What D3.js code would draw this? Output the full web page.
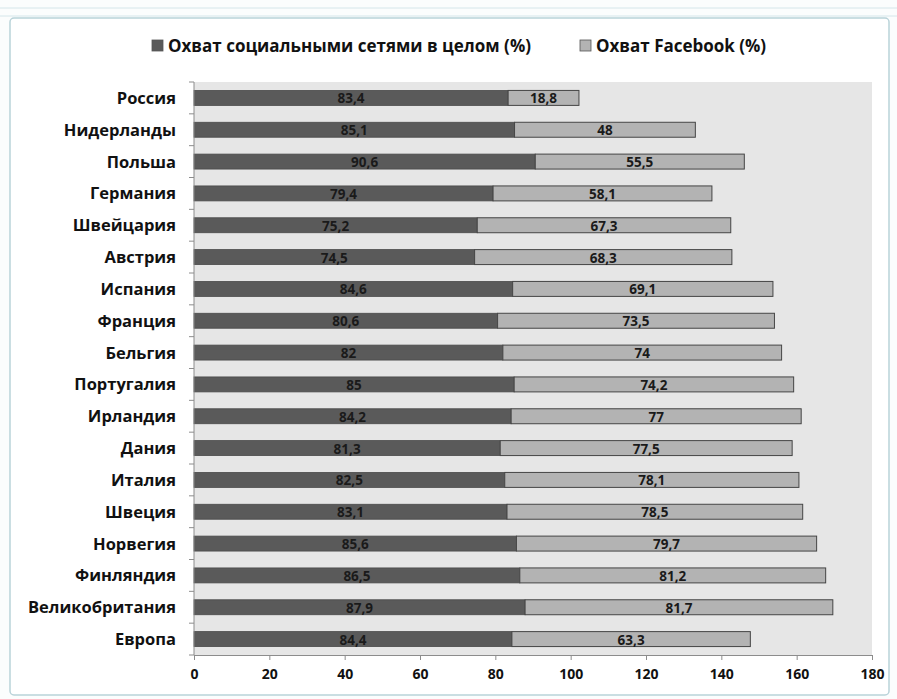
<!DOCTYPE html>
<html>
<head>
<meta charset="utf-8">
<script src="https://cdn.jsdelivr.net/npm/d3@7"></script>
<style>
body { margin:0; background:#fff; }
text { font-family: "Open Sans", sans-serif; font-weight:bold; }
</style>
</head>
<body>
<div id="plot"></div>
<script>
// data, top row first
var countries = ['Россия','Нидерланды','Польша','Германия','Швейцария','Австрия','Испания','Франция','Бельгия','Португалия','Ирландия','Дания','Италия','Швеция','Норвегия','Финляндия','Великобритания','Европа'];
var socialReach = [83.4,85.1,90.6,79.4,75.2,74.5,84.6,80.6,82,85,84.2,81.3,82.5,83.1,85.6,86.5,87.9,84.4];
var facebookReach = [18.8,48,55.5,58.1,67.3,68.3,69.1,73.5,74,74.2,77,77.5,78.1,78.5,79.7,81.2,81.7,63.3];
var seriesNames = ['Охват социальными сетями в целом (%)','Охват Facebook (%)'];
var xTicks = [0,20,40,60,80,100,120,140,160,180];

var W = 897, H = 699;
var margin = {t:82, r:25, b:44, l:194};

var svg = d3.select('#plot').append('svg')
	.attr('width', W)
	.attr('height', H);

// excel sheet look around the chart
svg.append('rect').attr('x',0).attr('y',0).attr('width',W).attr('height',H).style('fill','#fbfdfd');
[8,16].forEach(function (y) {
	svg.append('line').attr('x1',0).attr('x2',W).attr('y1',y).attr('y2',y).style('stroke','#d5e6ea');
});
svg.append('rect')
	.attr('x',10).attr('y',18).attr('width',879).attr('height',677)
	.attr('rx',4)
	.style('fill','#fff')
	.style('stroke','#b9d3d9').style('stroke-width',1.5);

var plot = svg.append('g')
	.attr('transform','translate('+margin.l+','+margin.t+')');

var width = 872 - margin.l,
	height = 655 - margin.t;

var x = d3.scaleLinear().domain([0,180]).range([0,width]);
var y = d3.scaleBand().domain(countries).range([0,height]).paddingInner(0.53).paddingOuter(0.265);

plot.append('rect')
	.attr('width',width).attr('height',height)
	.style('fill','#e6e6e6');

var rows = countries.map(function (c, i) {
	return {name:c, a:socialReach[i], b:facebookReach[i]};
});

var fmt = function (v) { return String(v).replace('.', ','); };

var g = plot.selectAll('.row').data(rows).enter()
	.append('g').attr('class','row')
	.attr('transform', function (d) { return 'translate(0,'+y(d.name)+')'; });

g.append('rect')
	.attr('x',0)
	.attr('width', function (d) { return x(d.a); })
	.attr('height', y.bandwidth())
	.style('fill','#5a5a5a')
	.style('stroke','#4a4a4a').style('stroke-width',0.8);

g.append('rect')
	.attr('x', function (d) { return x(d.a); })
	.attr('width', function (d) { return x(d.b); })
	.attr('height', y.bandwidth())
	.style('fill','#b3b3b3')
	.style('stroke','#454545').style('stroke-width',1);

g.append('text')
	.attr('x', function (d) { return x(d.a/2); })
	.attr('y', y.bandwidth()/2 + 5.5)
	.attr('text-anchor','middle')
	.style('font-size','13.5px').style('fill','#1a1a1a')
	.text(function (d) { return fmt(d.a); });

g.append('text')
	.attr('x', function (d) { return x(d.a + d.b/2); })
	.attr('y', y.bandwidth()/2 + 5.5)
	.attr('text-anchor','middle')
	.style('font-size','13.5px').style('fill','#1a1a1a')
	.text(function (d) { return fmt(d.b); });

// x axis
var xAxis = plot.append('g')
	.attr('transform','translate(0,'+height+')')
	.call(d3.axisBottom(x).tickValues(xTicks).tickSize(5).tickPadding(9));
xAxis.select('.domain').style('stroke','#8c8c8c');
xAxis.selectAll('line').style('stroke','#8c8c8c');
xAxis.selectAll('text').style('font-size','14px').style('fill','#111').style('font-family',null);

// y axis: ticks sit between the categories
var yAxis = plot.append('g');
yAxis.append('line').attr('x1',0).attr('x2',0).attr('y1',0).attr('y2',height).style('stroke','#8c8c8c');
yAxis.selectAll('.yt').data(d3.range(countries.length + 1)).enter()
	.append('line')
	.attr('x1',-5).attr('x2',0)
	.attr('y1', function (i) { return i*height/countries.length; })
	.attr('y2', function (i) { return i*height/countries.length; })
	.style('stroke','#8c8c8c');
yAxis.selectAll('.ylab').data(countries).enter()
	.append('text')
	.attr('x',-18)
	.attr('y', function (d) { return y(d) + y.bandwidth()/2 + 6; })
	.attr('text-anchor','end')
	.style('font-size','16.5px').style('fill','#111')
	.text(function (d) { return d; });

// legend
var legend = svg.append('g').attr('transform','translate(152,40)');
var lx = [0,428];
var lc = ['#5a5a5a','#b3b3b3'];
seriesNames.forEach(function (s, i) {
	legend.append('rect')
		.attr('x',lx[i]).attr('y',0).attr('width',11).attr('height',11)
		.style('fill',lc[i]).style('stroke','#555').style('stroke-width',0.8);
	legend.append('text')
		.attr('x',lx[i]+16).attr('y',12)
		.style('font-size','17px').style('fill','#111')
		.text(s);
});
</script>
</body>
</html>
